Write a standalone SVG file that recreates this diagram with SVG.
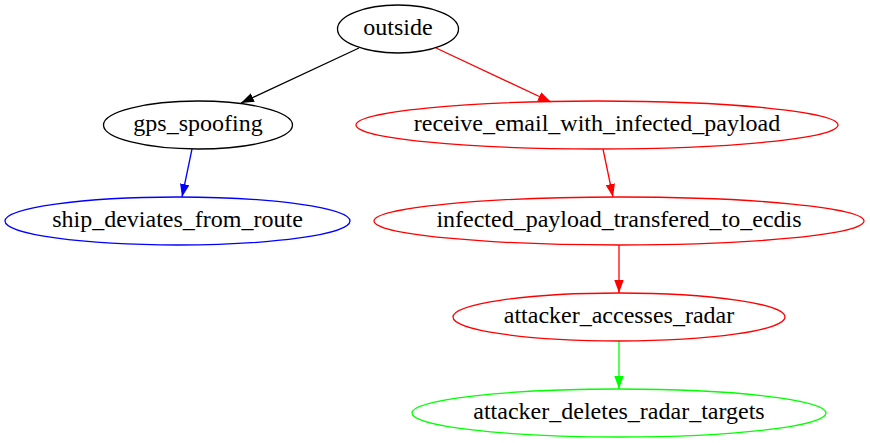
<svg xmlns="http://www.w3.org/2000/svg" width="870" height="443" viewBox="0 0 870 443">
<style>
  .n ellipse { fill: none; stroke-width: 1.3; }
  .n text { font-family: 'Liberation Serif', 'DejaVu Serif', serif; font-size: 24px; text-anchor: middle; fill: #000; }
  .e line { stroke-width: 1.3; fill: none; }
</style>
<defs>
  <marker id="ak" markerUnits="userSpaceOnUse" markerWidth="14" markerHeight="10" refX="13" refY="4.7" orient="auto"><path d="M0,0 L13,4.7 L0,9.4 z" fill="#000"/></marker>
  <marker id="ar" markerUnits="userSpaceOnUse" markerWidth="14" markerHeight="10" refX="13" refY="4.7" orient="auto"><path d="M0,0 L13,4.7 L0,9.4 z" fill="#f00"/></marker>
  <marker id="ab" markerUnits="userSpaceOnUse" markerWidth="14" markerHeight="10" refX="13" refY="4.7" orient="auto"><path d="M0,0 L13,4.7 L0,9.4 z" fill="#00f"/></marker>
  <marker id="ag" markerUnits="userSpaceOnUse" markerWidth="14" markerHeight="10" refX="13" refY="4.7" orient="auto"><path d="M0,0 L13,4.7 L0,9.4 z" fill="#0f0"/></marker>
</defs>
<rect width="870" height="443" fill="#fff"/>
<g id="edges" class="e">
  <line x1="359" y1="48" x2="241" y2="103" stroke="#000" marker-end="url(#ak)"/>
  <line x1="436" y1="48" x2="551" y2="102" stroke="#f00" marker-end="url(#ar)"/>
  <line x1="192" y1="149" x2="182" y2="197" stroke="#00f" marker-end="url(#ab)"/>
  <line x1="603" y1="149" x2="613" y2="197" stroke="#f00" marker-end="url(#ar)"/>
  <line x1="619" y1="245" x2="619" y2="293" stroke="#f00" marker-end="url(#ar)"/>
  <line x1="619" y1="341" x2="619" y2="389" stroke="#0f0" marker-end="url(#ag)"/>
</g>
<g id="outside" class="n"><ellipse cx="398" cy="29" rx="60.5" ry="24" stroke="#000"/><text x="398" y="35" font-family="Liberation Serif">outside</text></g>
<g id="gps_spoofing" class="n"><ellipse cx="198" cy="125" rx="94.5" ry="24" stroke="#000"/><text x="198" y="131" font-family="Liberation Serif">gps_spoofing</text></g>
<g id="receive_email_with_infected_payload" class="n"><ellipse cx="597" cy="125" rx="241" ry="24" stroke="#f00"/><text x="597" y="131" font-family="Liberation Serif">receive_email_with_infected_payload</text></g>
<g id="ship_deviates_from_route" class="n"><ellipse cx="177.5" cy="221" rx="172.5" ry="24" stroke="#00f"/><text x="177.5" y="227" font-family="Liberation Serif">ship_deviates_from_route</text></g>
<g id="infected_payload_transfered_to_ecdis" class="n"><ellipse cx="619" cy="221" rx="245" ry="24" stroke="#f00"/><text x="619" y="227" font-family="Liberation Serif">infected_payload_transfered_to_ecdis</text></g>
<g id="attacker_accesses_radar" class="n"><ellipse cx="619" cy="317" rx="166" ry="24" stroke="#f00"/><text x="619" y="323" font-family="Liberation Serif">attacker_accesses_radar</text></g>
<g id="attacker_deletes_radar_targets" class="n"><ellipse cx="619" cy="413" rx="207" ry="24" stroke="#0f0"/><text x="619" y="419" font-family="Liberation Serif">attacker_deletes_radar_targets</text></g>
</svg>
